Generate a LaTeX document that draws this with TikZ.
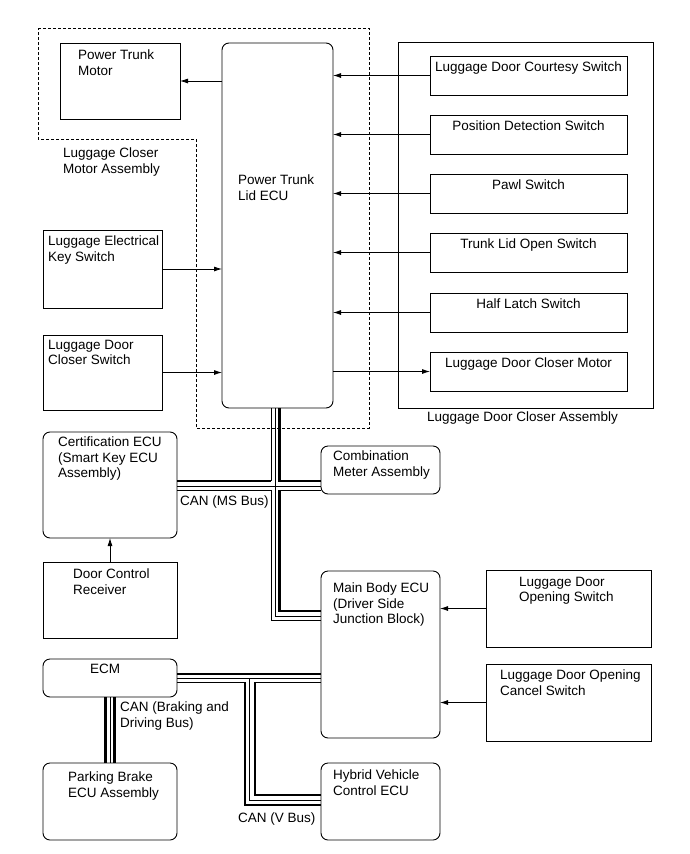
\documentclass[tikz,border=0pt]{standalone}
\usepackage{fontspec}
\setmainfont{Liberation Sans}
\usetikzlibrary{arrows.meta}

\begin{document}
\begin{tikzpicture}[x=1pt, y=-1pt,
  font={\fontsize{13.5}{15.5}\selectfont},
  box/.style={draw, line width=0.9pt, anchor=north west, inner sep=0pt, outer sep=0pt},
  ecubox/.style={box, rounded corners=7pt},
  lbl/.style={anchor=north west, inner sep=0pt, align=left},
  sig/.style={line width=0.8pt, -{Latex[length=8pt, width=5pt]}},
  canhi/.style={line width=2.4pt},
  canlo/.style={line width=0.8pt}]

        \useasboundingbox (0,0) rectangle (690,854);

        % Luggage closer motor assembly (dashed outline)
        \draw[line width=0.9pt, dash pattern=on 3pt off 2pt] (38,28) -- (369,28) -- (369,428) -- (196,428) -- (196,139) -- (38,139) -- cycle;
        \node[lbl] (lcma) at (63,148) {Luggage Closer\\Motor Assembly};

        % ECUs and boxes
        \node[box, minimum width=120, minimum height=76] (ptm) at (60,43) {};
        \node[lbl] (ptmT) at ([shift={(18,7)}]ptm.north west) {Power Trunk\\Motor};
        \node[ecubox, minimum width=111, minimum height=365] (ecu) at (222,43) {};
        \node[lbl] (ecuT) at ([shift={(16,132)}]ecu.north west) {Power Trunk\\Lid ECU};

        \node[box, minimum width=119, minimum height=78] (leks) at (43,230) {};
        \node[lbl] (leksT) at ([shift={(5,6)}]leks.north west) {Luggage Electrical\\Key Switch};
        \node[box, minimum width=119, minimum height=75] (ldcs) at (43,335) {};
        \node[lbl] (ldcsT) at ([shift={(5,5)}]ldcs.north west) {Luggage Door\\Closer Switch};

        % Luggage door closer assembly
        \node[box, minimum width=255, minimum height=366] (ldca) at (398,42) {};
        \node[anchor=north, inner sep=0pt] (ldcaT) at ([shift={(-3,4)}]ldca.south) {Luggage Door Closer Assembly};
        \foreach \n/\t/\yy in {courtesy/Luggage Door Courtesy Switch/56, posdet/Position Detection Switch/115,
                               pawl/Pawl Switch/174, tlopen/Trunk Lid Open Switch/233,
                               halflatch/Half Latch Switch/293, closermotor/Luggage Door Closer Motor/352}
        {
          \node[box, minimum width=197, minimum height=39] (\n) at (430,\yy) {};
          \node[anchor=north, inner sep=0pt] (\n T) at ([shift={(0,6)}]\n.north) {\t};
        }

        \node[ecubox, minimum width=134, minimum height=106] (cert) at (43,432) {};
        \node[lbl] (certT) at ([shift={(15,5)}]cert.north west) {Certification ECU\\(Smart Key ECU\\Assembly)};
        \node[box, minimum width=134, minimum height=76] (dcr) at (43,562) {};
        \node[lbl] (dcrT) at ([shift={(30,7)}]dcr.north west) {Door Control\\Receiver};
        \node[ecubox, minimum width=134, minimum height=38] (ecm) at (43,659) {};
        \node[anchor=north, inner sep=0pt] (ecmT) at ([shift={(-5,5)}]ecm.north) {ECM};
        \node[ecubox, minimum width=134, minimum height=77] (pb) at (43,763) {};
        \node[lbl] (pbT) at ([shift={(25,9)}]pb.north west) {Parking Brake\\ECU Assembly};

        \node[ecubox, minimum width=119, minimum height=48] (comb) at (321,446) {};
        \node[lbl] (combT) at ([shift={(12,5)}]comb.north west) {Combination\\Meter Assembly};
        \node[ecubox, minimum width=119, minimum height=167] (mb) at (321,571) {};
        \node[lbl] (mbT) at ([shift={(12,12)}]mb.north west) {Main Body ECU\\(Driver Side\\Junction Block)};
        \node[ecubox, minimum width=119, minimum height=77] (hv) at (321,763) {};
        \node[lbl] (hvT) at ([shift={(12,7)}]hv.north west) {Hybrid Vehicle\\Control ECU};

        \node[box, minimum width=165, minimum height=77] (ldos) at (486,570) {};
        \node[lbl] (ldosT) at ([shift={(33,7)}]ldos.north west) {Luggage Door\\Opening Switch};
        \node[box, minimum width=165, minimum height=77] (ldocs) at (486,664) {};
        \node[lbl] (ldocsT) at ([shift={(14,6)}]ldocs.north west) {Luggage Door Opening\\Cancel Switch};

        % Signal lines
        \draw[sig] (ptm.east -| ecu.west) -- (ptm.east);
        \foreach \n in {courtesy, posdet, pawl, tlopen, halflatch}
          \draw[sig] (\n.west) -- (\n.west -| ecu.east);
        \draw[sig] (closermotor.west -| ecu.east) -- (closermotor.west);
        \draw[sig] (leks.east) -- (leks.east -| ecu.west);
        \draw[sig] (ldcs.east) -- (ldcs.east -| ecu.west);
        \draw[sig] (dcr.north) -- (cert.south);
        \draw[sig] (ldos.west) -- (ldos.west -| mb.east);
        \draw[sig] (ldocs.west) -- (ldocs.west -| mb.east);

        % CAN (MS Bus)
        \draw[canlo] (271,0 |- ecu.south) -- (271,481);
        \draw[canhi] (cert.east |- 0,481) -- (271.4,481);
        \draw[canhi] (279.5,0 |- ecu.south) -- (279.5,481) -- (comb.west |- 0,481);
        \draw[canlo] (275,0 |- ecu.south) -- (275,616) -- (mb.west |- 0,616);
        \draw[canlo] (cert.east |- 0,486) -- (comb.west |- 0,486);
        \draw[canlo] (cert.east |- 0,490.5) -- (271,490.5) -- (271,620) -- (mb.west |- 0,620);
        \draw[canlo] (comb.west |- 0,490.5) -- (279.5,490.5);
        \draw[canhi] (279.5,490) -- (279.5,611) -- (mb.west |- 0,611);
        \node[lbl] (msbus) at (180,496) {CAN (MS Bus)};

        % CAN (V Bus)
        \draw[canhi] (ecm.east |- 0,674) -- (mb.west |- 0,674);
        \draw[canlo] (ecm.east |- 0,678.5) -- (mb.west |- 0,678.5);
        \draw[canlo] (ecm.east |- 0,682.5) -- (245,682.5);
        \draw[canhi] (245,682) -- (245,805) -- (hv.west |- 0,805);
        \draw[canlo] (249.5,678.5) -- (249.5,800) -- (hv.west |- 0,800);
        \draw[canlo] (mb.west |- 0,682.5) -- (255,682.5);
        \draw[canhi] (255,682) -- (255,795) -- (hv.west |- 0,795);
        \node[lbl] (vbus) at (238,813) {CAN (V Bus)};

        % CAN (Braking and Driving Bus)
        \draw[canhi] (105.5,0 |- ecm.south) -- (105.5,0 |- pb.north);
        \draw[canlo] (110,0 |- ecm.south) -- (110,0 |- pb.north);
        \draw[canhi] (114.5,0 |- ecm.south) -- (114.5,0 |- pb.north);
        \node[lbl] (bdbus) at (120,702) {CAN (Braking and\\Driving Bus)};

\end{tikzpicture}
\end{document}
